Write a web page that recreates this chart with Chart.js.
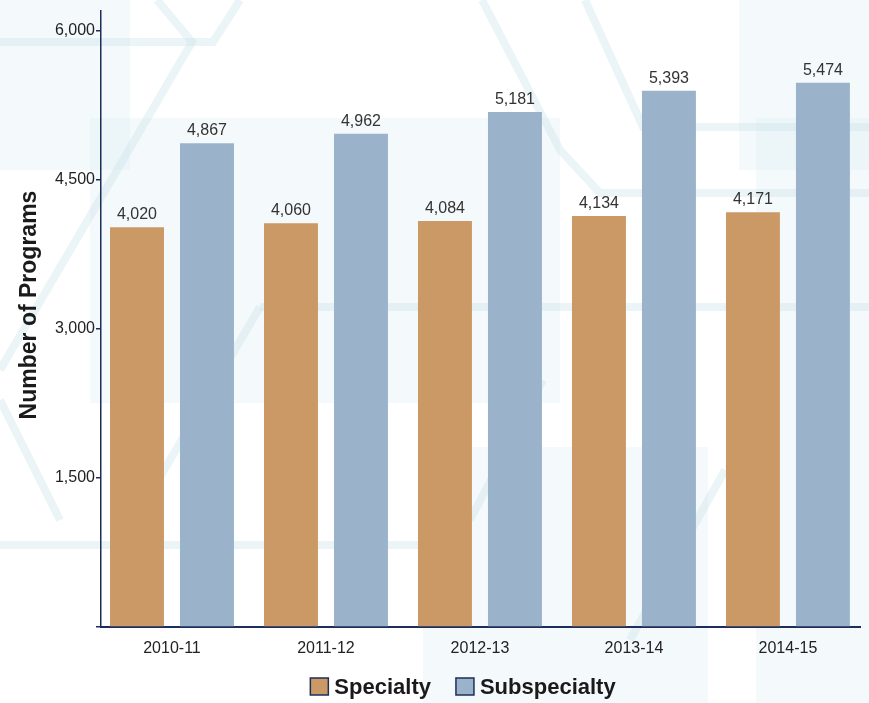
<!DOCTYPE html>
<html lang="en">
<head>
<meta charset="UTF-8">
<script src="https://cdn.jsdelivr.net/npm/chart.js@4"></script>
<style>
    html, body { margin: 0; padding: 0; background: #fff; }
    #wrap { width: 869px; height: 703px; }
</style>
</head>
<body>
<div id="wrap"><canvas id="programs-chart"></canvas></div>
<script>
const years = ['2010-11', '2011-12', '2012-13', '2013-14', '2014-15'];
const specialty = [4020, 4060, 4084, 4134, 4171];
const subspecialty = [4867, 4962, 5181, 5393, 5474];
const yTicks = [0, 1500, 3000, 4500, 6000];

const navy = '#1e2e5a';
const font = "'Liberation Sans', Arial, Helvetica, sans-serif";

// faint hexagon pattern behind the plot
const backdrop = {
    id: 'backdrop',
    beforeDraw(chart) {
        const ctx = chart.ctx;
        ctx.save();
        ctx.fillStyle = '#fff';
        ctx.fillRect(0, 0, chart.width, chart.height);
        ctx.fillStyle = 'rgba(220,236,242,0.3)';
        [[90, 118, 470, 285], [423, 447, 285, 256], [739, 0, 130, 170], [756, 118, 113, 585], [0, 0, 130, 170]]
            .forEach(r => ctx.fillRect(r[0], r[1], r[2], r[3]));
        ctx.strokeStyle = 'rgba(205,228,236,0.4)';
        ctx.lineWidth = 8;
        [
            [[0, 42], [213, 42], [240, 0]],
            [[157, 0], [192, 42], [0, 370]],
            [[482, 0], [560, 150], [600, 193], [869, 193]],
            [[585, 0], [643, 127], [869, 127]],
            [[260, 307], [869, 307]],
            [[0, 545], [420, 545]],
            [[260, 307], [120, 545]],
            [[725, 470], [630, 640]],
            [[543, 380], [470, 520]],
            [[0, 400], [60, 520]]
        ].forEach(path => {
            ctx.beginPath();
            path.forEach((p, i) => i ? ctx.lineTo(p[0], p[1]) : ctx.moveTo(p[0], p[1]));
            ctx.stroke();
        });
        ctx.restore();
    }
};

// value labels, y axis title and legend
const annotate = {
    id: 'annotate',
    afterDatasetsDraw(chart) {
        const ctx = chart.ctx;
        ctx.save();
        ctx.fillStyle = '#333';
        ctx.font = '16px ' + font;
        ctx.textAlign = 'center';
        ctx.textBaseline = 'alphabetic';
        chart.data.datasets.forEach((ds, di) => {
            chart.getDatasetMeta(di).data.forEach((bar, i) => {
                ctx.fillText(ds.data[i].y.toLocaleString('en-US'), bar.x, bar.y - 8);
            });
        });

        ctx.fillStyle = '#1a1a1a';
        ctx.font = 'bold 23px ' + font;
        ctx.translate(30, 305);
        ctx.rotate(-Math.PI / 2);
        ctx.textBaseline = 'middle';
        ctx.fillText('Number of Programs', 0, 0);
        ctx.restore();

        ctx.save();
        ctx.font = 'bold 22px ' + font;
        ctx.textBaseline = 'middle';
        const items = chart.data.datasets.map(ds => ({ text: ds.label, color: ds.backgroundColor, w: ctx.measureText(ds.label).width }));
        const total = items.reduce((s, it) => s + 18 + 6 + it.w, 0) + 25 * (items.length - 1);
        let x = 463 - total / 2;
        const y = 686.5;
        items.forEach(it => {
            ctx.fillStyle = it.color;
            ctx.fillRect(x, y - 8.5, 18, 17);
            ctx.strokeStyle = navy;
            ctx.lineWidth = 1.5;
            ctx.strokeRect(x, y - 8.5, 18, 17);
            ctx.fillStyle = '#1a1a1a';
            ctx.textAlign = 'left';
            ctx.fillText(it.text, x + 24, y + 1);
            x += 18 + 6 + it.w + 25;
        });
        ctx.restore();
    }
};

new Chart(document.getElementById('programs-chart'), {
    type: 'bar',
    data: {
        datasets: [
            {
                label: 'Specialty',
                data: specialty.map((v, i) => ({ x: i, y: v })),
                backgroundColor: '#cb9966'
            },
            {
                label: 'Subspecialty',
                data: subspecialty.map((v, i) => ({ x: i, y: v })),
                backgroundColor: '#9ab3cb'
            }
        ]
    },
    options: {
        responsive: true,
        maintainAspectRatio: false,
        animation: false,
        categoryPercentage: 0.909,
        barPercentage: 0.771,
        layout: { padding: { top: 5, right: 9, bottom: 0, left: 0 } },
        plugins: {
            legend: { display: false },
            tooltip: { enabled: false }
        },
        scales: {
            x: {
                type: 'linear',
                offset: false,
                min: -0.461,
                max: 4.468,
                afterBuildTicks: scale => { scale.ticks = years.map((y, i) => ({ value: i })); },
                afterFit: scale => { scale.height = 76; },
                grid: { display: false, drawTicks: false },
                border: { display: true, color: navy, width: 2 },
                ticks: {
                    callback: v => years[v],
                    color: '#222',
                    font: { family: font, size: 16 },
                    padding: 12,
                    maxRotation: 0
                }
            },
            y: {
                min: 0,
                max: 6200,
                afterBuildTicks: scale => { scale.ticks = yTicks.map(v => ({ value: v })); },
                afterFit: scale => { scale.width = 101; },
                grid: { drawOnChartArea: false, drawTicks: true, tickLength: 5, color: navy, lineWidth: 1.5 },
                border: { display: true, color: navy, width: 1.5 },
                ticks: {
                    callback: v => v === 0 ? '' : v.toLocaleString('en-US'),
                    color: '#222',
                    font: { family: font, size: 16 },
                    padding: 1
                }
            }
        }
    },
    plugins: [backdrop, annotate]
});
</script>
</body>
</html>
